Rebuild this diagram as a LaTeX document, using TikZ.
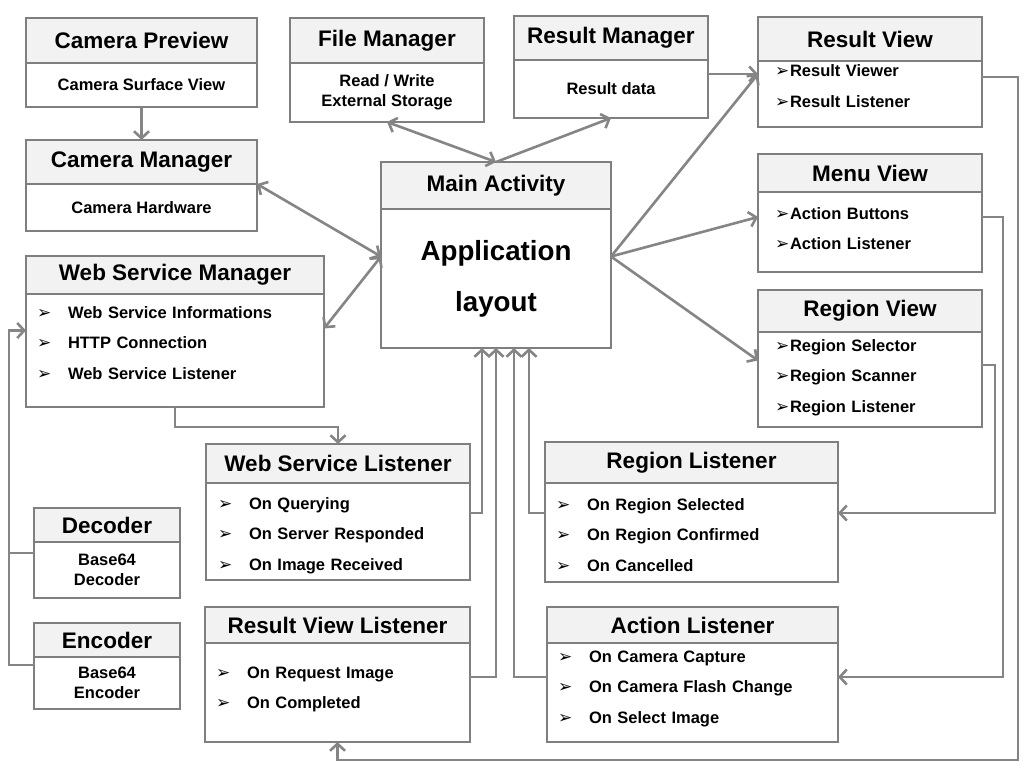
\documentclass[tikz,border=0pt]{standalone}
\usepackage{fontspec}
\setmainfont{Liberation Sans}
\newfontfamily\bulletfont{DejaVu Sans}
\usepackage{xcolor}
\usepackage{tikz}
\usetikzlibrary{arrows.meta,positioning}
\definecolor{Edge}{HTML}{7F7F7F}
\definecolor{HeadFill}{HTML}{F2F2F2}
\definecolor{Link}{HTML}{858585}
\newcommand{\hdfont}{\bfseries\fontsize{22.5}{25}\selectfont}
\newcommand{\txtfont}{\bfseries\fontsize{16.5}{20.5}\selectfont}
\newcommand{\itemfont}{\bfseries\fontsize{16.5}{30.7}\selectfont}
\newcommand{\appfont}{\bfseries\fontsize{27.7}{51}\selectfont}
\newcommand{\bul}[1][31pt]{\makebox[#1][l]{\bulletfont\mdseries\fontsize{17}{17}\selectfont ➢}}

\begin{document}
\begin{tikzpicture}[x=1pt,y=-1pt,
  hdbox/.style={draw=Edge,line width=2.4pt,fill=HeadFill,font=\hdfont,inner sep=0pt,outer sep=0pt,anchor=north},
  bodybox/.style={draw=Edge,line width=2.4pt,fill=white,font=\txtfont,inner sep=0pt,outer sep=0pt,align=center},
  listbox/.style={bodybox,align=left,font=\itemfont},
  link/.style={draw=Link,line width=2.6pt,-{Straight Barb[length=7pt,width=15pt]}},
  link2/.style={link,{Straight Barb[length=7pt,width=15pt]}-{Straight Barb[length=7pt,width=15pt]}},
  wire/.style={draw=Link,line width=2.6pt}]
\fill[white] (0,0) rectangle (1024,768);
\useasboundingbox (0,0) rectangle (1024,768);

% left column
\node[hdbox,minimum width=231pt,minimum height=45pt] (cprev) at (141.5,18) {Camera Preview};
\node[bodybox,below=0pt of cprev,minimum width=231pt,minimum height=44pt] (cprevB) {Camera Surface View};
\node[hdbox,minimum width=231pt,minimum height=44pt] (cmgr) at (141.5,140) {Camera Manager};
\node[bodybox,below=0pt of cmgr,minimum width=231pt,minimum height=47pt] (cmgrB) {Camera Hardware};
\node[hdbox,minimum width=298pt,minimum height=38pt] (wsm) at (175,256) {Web Service Manager};
\node[listbox,below=0pt of wsm,text width=276pt,inner xsep=11pt,text height=24pt,text depth=89pt] (wsmB)
  {\bul Web Service Informations\\\bul HTTP Connection\\\bul Web Service Listener};
\node[hdbox,minimum width=146pt,minimum height=34pt] (dec) at (107,508) {Decoder};
\node[bodybox,below=0pt of dec,minimum width=146pt,minimum height=56pt] (decB) {Base64\\Decoder};
\node[hdbox,minimum width=146pt,minimum height=34pt] (enc) at (107,623) {Encoder};
\node[bodybox,below=0pt of enc,minimum width=146pt,minimum height=52pt] (encB) {Base64\\Encoder};

% top row
\node[hdbox,minimum width=194pt,minimum height=45pt] (fmgr) at (387,18) {File Manager};
\node[bodybox,below=0pt of fmgr,minimum width=194pt,minimum height=59pt] (fmgrB) {Read / Write\\External Storage};
\node[hdbox,minimum width=194pt,minimum height=44pt] (rmgr) at (611,16) {Result Manager};
\node[bodybox,below=0pt of rmgr,minimum width=194pt,minimum height=58pt] (rmgrB) {Result data};

% main activity
\node[hdbox,minimum width=230pt,minimum height=47pt] (main) at (496,162) {Main Activity};
\node[bodybox,below=0pt of main,minimum width=230pt,minimum height=139pt,font=\appfont] (mainB) {Application\\layout};

% right column
\node[hdbox,minimum width=224pt,minimum height=44pt] (rview) at (870,17) {Result View};
\node[listbox,below=0pt of rview,text width=190pt,inner xsep=17pt,text height=16pt,text depth=50pt] (rviewB)
  {\bul[15pt]Result Viewer\\\bul[15pt]Result Listener};
\node[hdbox,minimum width=224pt,minimum height=38pt] (menu) at (870,154) {Menu View};
\node[listbox,below=0pt of menu,text width=190pt,inner xsep=17pt,text height=27pt,text depth=53pt] (menuB)
  {\bul[15pt]Action Buttons\\\bul[15pt]Action Listener};
\node[hdbox,minimum width=224pt,minimum height=42pt] (reg) at (870,290) {Region View};
\node[listbox,below=0pt of reg,text width=190pt,inner xsep=17pt,text height=19pt,text depth=76pt] (regB)
  {\bul[15pt]Region Selector\\\bul[15pt]Region Scanner\\\bul[15pt]Region Listener};

% listeners
\node[hdbox,minimum width=264pt,minimum height=39pt] (wsl) at (338,444) {Web Service Listener};
\node[listbox,below=0pt of wsl,text width=240pt,inner xsep=12pt,text height=26pt,text depth=71pt] (wslB)
  {\bul On Querying\\\bul On Server Responded\\\bul On Image Received};
\node[hdbox,minimum width=265pt,minimum height=36pt] (rvl) at (337.5,607) {Result View Listener};
\node[listbox,below=0pt of rvl,text width=243pt,inner xsep=11pt,text height=35pt,text depth=64pt] (rvlB)
  {\bul On Request Image\\\bul On Completed};
\node[hdbox,minimum width=293pt,minimum height=41pt] (rl) at (691.5,442) {Region Listener};
\node[listbox,below=0pt of rl,text width=271pt,inner xsep=11pt,text height=27pt,text depth=72pt] (rlB)
  {\bul On Region Selected\\\bul On Region Confirmed\\\bul On Cancelled};
\node[hdbox,minimum width=291pt,minimum height=36pt] (act) at (692.5,607) {Action Listener};
\node[listbox,below=0pt of act,text width=269pt,inner xsep=11pt,text height=19pt,text depth=80pt] (actB)
  {\bul On Camera Capture\\\bul On Camera Flash Change\\\bul On Select Image};

% connectors
\coordinate (hubL) at ([yshift=22pt]mainB.west);
\coordinate (hubR) at ([yshift=22pt]mainB.east);
\coordinate (rvIn) at ([yshift=20pt]rviewB.west);
\coordinate (loop) at (1018,760);
\draw[link] (cprevB) -- (cmgr);
\draw[link2] (cmgrB.north east) -- (hubL);
\draw[link2] (hubL) -- ([yshift=22pt]wsmB.east);
\draw[link2] (fmgrB.south) -- (main.north);
\draw[link] (main.north) -- (rmgrB.south);
\draw[link] (rmgrB.east |- rvIn) -- (rvIn);
\draw[link] (hubR) -- (rvIn);
\draw[link] (hubR) -- ([yshift=15pt]menuB.west);
\draw[link] (hubR) -- ([yshift=19pt]regB.west);
\draw[link] (wsmB.south) -- ++(0,20) -| (wsl.north);
\draw[link] ([yshift=18pt]encB.west) -- ++(-25,0) |- ([yshift=20pt]wsmB.west);
\draw[wire] ([yshift=17pt]decB.west) -- ++(-25,0);
\draw[link] ([yshift=18.5pt]wslB.east) -| ([xshift=-14pt]mainB.south);
\draw[link] ([yshift=15.5pt]rvlB.east) -| (mainB.south);
\draw[link] ([yshift=15.5pt]actB.west) -| ([xshift=18pt]mainB.south);
\draw[link] ([yshift=19.5pt]rlB.west) -| ([xshift=33pt]mainB.south);
\draw[link] ([yshift=14.5pt]regB.east) -- ++(13,0) |- ([yshift=19.5pt]rlB.east);
\draw[link] ([yshift=15pt]menuB.east) -- ++(21,0) |- ([yshift=15.5pt]actB.east);
\draw[link] ([yshift=17pt]rviewB.east) -| (loop) -| (rvlB.south);
\end{tikzpicture}
\end{document}
